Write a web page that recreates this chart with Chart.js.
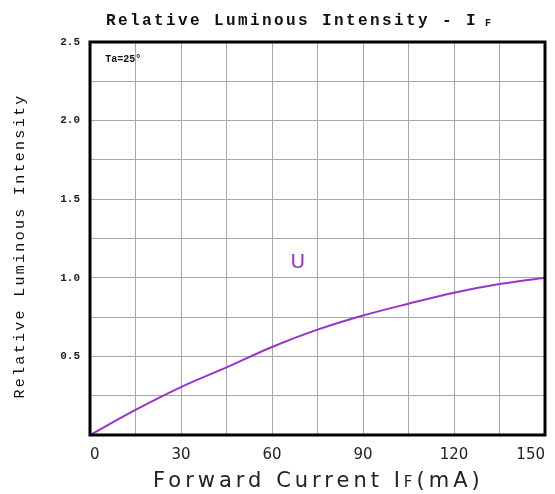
<!DOCTYPE html>
<html>
<head>
<meta charset="utf-8">
<script src="https://cdn.jsdelivr.net/npm/chart.js@4.4.0/dist/chart.umd.min.js"></script>
<style>
html, body { margin: 0; padding: 0; background: #fff; }
</style>
</head>
<body>
<canvas id="myChart" width="555" height="494"></canvas>
<script>
// data
const currentValues = [0, 15, 30, 45, 60, 75, 90, 105, 120, 135, 150];
const intensityValues = [0, 0.16, 0.305, 0.43, 0.56, 0.67, 0.76, 0.835, 0.905, 0.96, 1.0];
const xTickLabels = [0, 30, 60, 90, 120, 150];
const yTickLabels = [0.5, 1.0, 1.5, 2.0, 2.5];
const seriesLabel = 'U';
const noteText = 'Ta=25°';

const purple = '#9a32cc';

let points = [];
currentValues.forEach((c, i) => {
    points.push({ x: c, y: intensityValues[i] });
});

function spaced(ctx, text, x, y, spacing) {
    ctx.letterSpacing = spacing + 'px';
    ctx.fillText(text, x, y);
    ctx.letterSpacing = '0px';
}

// frame + titles + notes
const decor = {
    id: 'decor',
    afterDraw(chart) {
        const ctx = chart.ctx;
        const a = chart.chartArea;
        const xs = chart.scales.x;
        const ys = chart.scales.y;
        ctx.save();

        ctx.strokeStyle = '#000';
        ctx.lineWidth = 3;
        ctx.strokeRect(a.left, a.top, a.right - a.left, a.bottom - a.top);

        ctx.fillStyle = '#111';
        ctx.textBaseline = 'alphabetic';
        ctx.textAlign = 'left';

        // top title
        ctx.font = 'bold 16px "Liberation Mono"';
        spaced(ctx, 'Relative Luminous Intensity - I', 106, 25, 2.4);
        ctx.font = 'bold 10px "Liberation Mono"';
        ctx.fillText('F', 485, 26);

        // y title
        ctx.save();
        ctx.translate(24, 246);
        ctx.rotate(-Math.PI / 2);
        ctx.textAlign = 'center';
        ctx.font = '15px "Liberation Mono"';
        spaced(ctx, 'Relative Luminous Intensity', 0, 0, 2.3);
        ctx.restore();

        // x title
        ctx.font = '21px "DejaVu Sans"';
        ctx.fillStyle = '#222';
        let x0 = 153;
        ctx.letterSpacing = '4px';
        ctx.fillText('Forward Current I', x0, 487);
        let w1 = ctx.measureText('Forward Current I').width;
        ctx.font = '15px "DejaVu Sans"';
        ctx.fillText('F', x0 + w1, 487);
        let w2 = ctx.measureText('F').width;
        ctx.font = '21px "DejaVu Sans"';
        ctx.fillText('(mA)', x0 + w1 + w2, 487);
        ctx.letterSpacing = '0px';

        // note in the corner
        ctx.font = 'bold 10px "Liberation Mono"';
        ctx.fillStyle = '#111';
        ctx.fillText(noteText, xs.getPixelForValue(5), ys.getPixelForValue(2.37));

        // series label
        ctx.font = '20px "DejaVu Sans"';
        ctx.fillStyle = purple;
        ctx.textAlign = 'center';
        ctx.fillText(seriesLabel, xs.getPixelForValue(68.5), ys.getPixelForValue(1.06));

        ctx.restore();
    }
};

const ctx = document.getElementById('myChart').getContext('2d');
const myChart = new Chart(ctx, {
    type: 'line',
    data: {
        datasets: [{
            label: seriesLabel,
            data: points,
            borderColor: purple,
            borderWidth: 2,
            pointRadius: 0,
            tension: 0.4,
            cubicInterpolationMode: 'monotone'
        }]
    },
    options: {
        responsive: false,
        animation: false,
        layout: { padding: { top: 42, right: 10, left: 0, bottom: 0 } },
        plugins: {
            legend: { display: false },
            tooltip: { enabled: false },
            title: { display: false }
        },
        scales: {
            x: {
                type: 'linear',
                min: 0,
                max: 150,
                afterFit: (s) => { s.height = 59; s.paddingLeft = 0; s.paddingRight = 0; },
                grid: { color: '#a8a8a8', lineWidth: 1, drawTicks: false },
                border: { display: false },
                ticks: {
                    stepSize: 15,
                    autoSkip: false,
                    maxRotation: 0,
                    align: 'inner',
                    padding: 11,
                    color: '#222',
                    font: { family: 'DejaVu Sans', size: 15 },
                    callback: (v) => xTickLabels.includes(v) ? String(v) : ''
                }
            },
            y: {
                min: 0,
                max: 2.5,
                afterFit: (s) => { s.width = 90; },
                grid: { color: '#a8a8a8', lineWidth: 1, drawTicks: false },
                border: { display: false },
                ticks: {
                    stepSize: 0.25,
                    autoSkip: false,
                    padding: 10,
                    color: '#222',
                    font: { family: 'Liberation Mono', size: 11, weight: 'bold' },
                    callback: (v) => yTickLabels.some(t => Math.abs(t - v) < 1e-6) ? v.toFixed(1) : ''
                }
            }
        }
    },
    plugins: [decor]
});
</script>
</body>
</html>
